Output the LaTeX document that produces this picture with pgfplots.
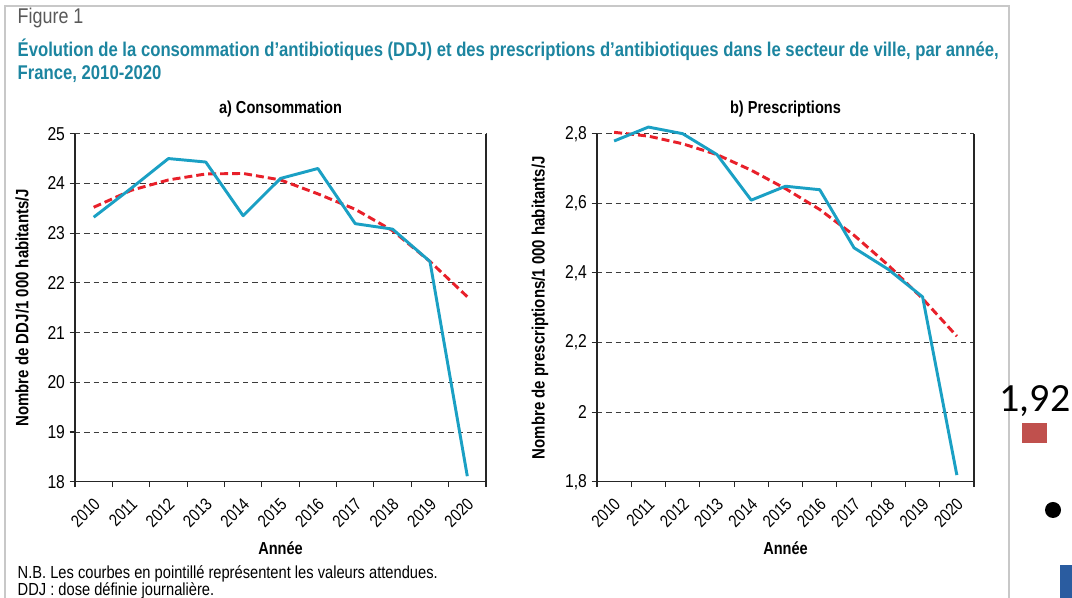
\documentclass[border=0pt]{standalone}
\usepackage{pgfplots}
\pgfplotsset{compat=1.18}
\usepackage{fontspec}
\setmainfont{Liberation Sans}[FakeStretch=0.84]
\newfontfamily\calibri{Carlito}
\definecolor{lineblue}{RGB}{26,160,196}
\definecolor{linered}{RGB}{232,32,42}
\definecolor{titleteal}{RGB}{28,133,160}
\definecolor{framegray}{RGB}{200,200,200}
\definecolor{gridgray}{RGB}{60,60,60}
\definecolor{sqred}{RGB}{192,80,77}
\definecolor{rectblue}{RGB}{42,92,160}

\pgfplotstableread{
x conso attendu
0 23.32 23.52
1 23.90 23.86
2 24.50 24.07
3 24.43 24.19
4 23.35 24.20
5 24.10 24.07
6 24.30 23.79
7 23.19 23.48
8 23.08 23.05
9 22.43 22.43
10 18.11 21.72
}\conso

\pgfplotstableread{
x presc attendu
0 2.779 2.804
1 2.819 2.793
2 2.800 2.771
3 2.740 2.740
4 2.609 2.695
5 2.649 2.642
6 2.639 2.582
7 2.472 2.508
8 2.410 2.422
9 2.331 2.326
10 1.819 2.218
}\presc

\pgfplotsset{
  myaxis/.style={
    scale only axis,
    height=261pt,
    xmin=-0.5, xmax=10.5,
    axis x line*=bottom,
    axis y line*=box,
    axis line style={line width=0.8pt, black!85},
    xtick={-0.5,0.5,...,10.5},
    xticklabels={2010,2011,2012,2013,2014,2015,2016,2017,2018,2019,2020},
    x tick label as interval,
    tick pos=left,
    tick align=outside,
    major tick length=4pt,
    tick style={line width=0.8pt, black!85},
    x tick label style={rotate=45, anchor=east, font=\fontsize{13}{14}\selectfont, xshift=-2.4pt, yshift=-9.2pt},
    y tick label style={font=\fontsize{14}{15}\selectfont},
    ymajorgrids,
    major grid style={gridgray, line width=0.7pt, dash pattern=on 4pt off 3pt},
    /pgf/number format/assume math mode=true,
    /pgf/number format/use comma,
    /pgf/number format/1000 sep={},
    xlabel={\bfseries Année},
    xlabel style={at={(axis description cs:0.5,-0.19)}, anchor=center, font=\fontsize{13}{14}\selectfont},
    ylabel style={font=\bfseries\fontsize{13.4}{14}\selectfont, anchor=center},
    title style={at={(axis description cs:0.5,1.047)}, anchor=center, font=\bfseries\fontsize{13}{14}\selectfont},
    clip=false,
  },
  blueline/.style={lineblue, line width=2.2pt, no markers, line join=round},
  redline/.style={linered, line width=2.2pt, no markers, dash pattern=on 6pt off 3pt},
}

\begin{document}
\begin{tikzpicture}
\path[use as bounding box] (0pt,0pt) rectangle (804pt,448.5pt);

\begin{axis}[myaxis, at={(56.25pt,87.225pt)}, anchor=south west, width=308.25pt,
  ymin=18, ymax=25, ytick={18,19,20,21,22,23,24,25},
  title={a) Consommation},
  ylabel={Nombre de DDJ/1 000 habitants/J},
  ylabel style={at={(axis description cs:-0.129,0.5)}},
]
\addplot[redline] table[x=x, y=attendu] {\conso};
\addplot[blueline] table[x=x, y=conso] {\conso};
\end{axis}

\begin{axis}[myaxis, at={(447.75pt,87.225pt)}, anchor=south west, width=282.75pt,
  ymin=1.8, ymax=2.8, ytick={1.8,2,2.2,2.4,2.6,2.8},
  title={b) Prescriptions},
  ylabel={Nombre de prescriptions/1 000 habitants/J},
  ylabel style={at={(axis description cs:-0.151,0.5)}},
]
\addplot[redline] table[x=x, y=attendu] {\presc};
\addplot[blueline] table[x=x, y=presc] {\presc};
\end{axis}

\begin{scope}[x=0.75pt,y=0.75pt]
\draw[framegray, line width=1.2pt] (5,-2) -- (5,{598-6}) -- (1009,{598-6}) -- (1009,-2);
\node[anchor=west, text=black!65, font=\fontsize{16}{17}\selectfont] at (13,{598-18}) {Figure 1};
\node[anchor=west, text=titleteal, font=\bfseries\fontsize{14.9}{16}\selectfont] at (13,{598-50}) {Évolution de la consommation d’antibiotiques (DDJ) et des prescriptions d’antibiotiques dans le secteur de ville, par année,};
\node[anchor=west, text=titleteal, font=\bfseries\fontsize{14.9}{16}\selectfont] at (13,{598-74}) {France, 2010-2020};
\node[anchor=west, font=\fontsize{13.1}{14}\selectfont] at (13,{598-574}) {N.B. Les courbes en pointillé représentent les valeurs attendues.};
\node[anchor=west, font=\fontsize{13.1}{14}\selectfont] at (13,{598-591}) {DDJ : dose définie journalière.};
\node[font=\calibri\fontsize{30}{32}\selectfont] at (1035,{598-401}) {1,92};
\fill[sqred] (1022,{598-423}) rectangle (1047,{598-443});
\fill[black] (1053,{598-510}) circle (8);
\fill[rectblue] (1060,{598-565}) rectangle (1072,0);
\end{scope}
\end{tikzpicture}
\end{document}
